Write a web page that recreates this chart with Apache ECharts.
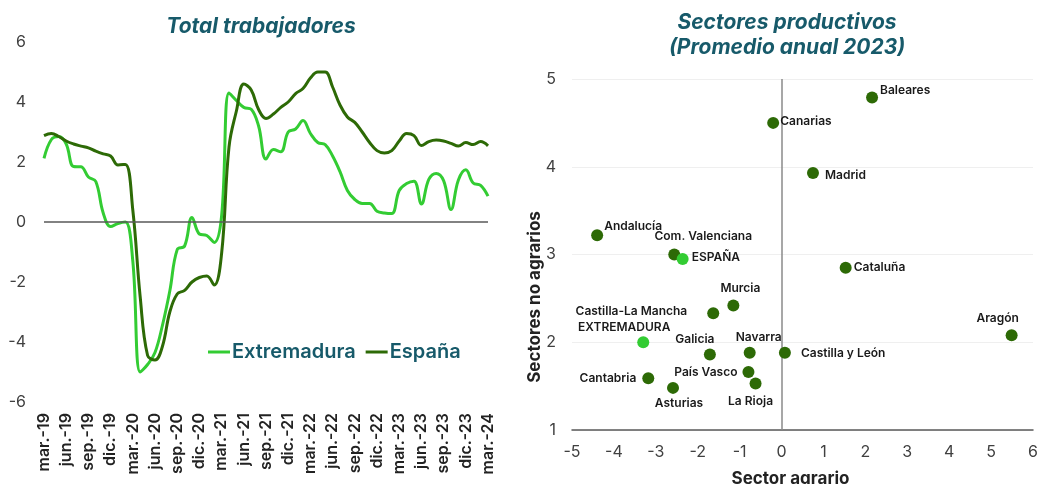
<!DOCTYPE html>
<html>
<head>
<meta charset="utf-8">
<script src="https://cdn.jsdelivr.net/npm/echarts@6/dist/echarts.min.js"></script>
<style>
  html, body { margin: 0; padding: 0; background: #fff; }
  #chart { width: 1040px; height: 484px; }
</style>
</head>
<body>
<div id="chart"></div>
<script>
// Total trabajadores: meses de mar.-19 a mar.-24
const monthNames = ['ene.', 'feb.', 'mar.', 'abr.', 'may.', 'jun.', 'jul.', 'ago.', 'sep.', 'oct.', 'nov.', 'dic.']
const months = []
for (let k = 0; k < 61; k++) {
  const m = (2 + k) % 12
  const yr = 19 + Math.floor((2 + k) / 12)
  months.push(monthNames[m] + '-' + yr)
}

const extremadura = [
  2.12, 2.75, 2.85, 2.6, 1.85, 1.84, 1.5, 1.35, 0.3, -0.15,
  -0.05, 0.0, -1.3, -5.0, -4.75, -4.35, -3.45, -2.3, -0.92, -0.8,
  0.15, -0.4, -0.45, -0.68, 0.2, 4.3, 4.05, 3.82, 3.76, 3.2,
  2.1, 2.42, 2.34, 3.0, 3.1, 3.38, 2.95, 2.65, 2.58, 2.2,
  1.68, 1.05, 0.75, 0.62, 0.62, 0.36, 0.3, 0.28, 1.05, 1.28,
  1.36, 0.6, 1.42, 1.62, 1.38, 0.42, 1.4, 1.74, 1.3, 1.22,
  0.86
]
const espana = [
  2.88, 2.95, 2.85, 2.7, 2.6, 2.53, 2.47, 2.36, 2.27, 2.2,
  1.9, 1.92, 0.4, -2.5, -4.45, -4.6, -4.15, -3.0, -2.4, -2.28,
  -2.0, -1.85, -1.8, -2.1, -1.05, 2.5, 3.7, 4.6, 4.4, 3.75,
  3.45, 3.6, 3.82, 4.0, 4.28, 4.45, 4.8, 5.0, 5.0, 4.5,
  3.9, 3.5, 3.32, 3.0, 2.65, 2.38, 2.3, 2.38, 2.7, 2.95,
  2.88, 2.55, 2.68, 2.73, 2.7, 2.62, 2.53, 2.65, 2.58, 2.68,
  2.54
]

// Sectores productivos (Promedio anual 2023)
const regions = [
  'Baleares', 'Canarias', 'Madrid', 'Andalucía', 'Com. Valenciana', 'ESPAÑA',
  'Cataluña', 'Murcia', 'Castilla-La Mancha', 'EXTREMADURA', 'Aragón', 'Galicia',
  'Navarra', 'Castilla y León', 'País Vasco', 'Cantabria', 'Asturias', 'La Rioja'
]
const agrario = [
  2.16, -0.2, 0.75, -4.4, -2.56, -2.36,
  1.53, -1.15, -1.63, -3.3, 5.49, -1.71,
  -0.76, 0.08, -0.79, -3.18, -2.59, -0.62
]
const noAgrario = [
  4.79, 4.5, 3.93, 3.22, 3.0, 2.95,
  2.85, 2.42, 2.33, 2.0, 2.08, 1.86,
  1.88, 1.88, 1.66, 1.59, 1.48, 1.53
]
const highlighted = ['ESPAÑA', 'EXTREMADURA']

const teal = '#175a6a'
const darkGreen = '#2d6a06'
const lightGreen = '#33cc33'
const font = 'Inter, "Noto Sans", sans-serif'

// posición de cada etiqueta del diagrama de dispersión
const labelPlace = {
  'Baleares': { position: 'right', offset: [-2, -7] },
  'Canarias': { position: 'right', offset: [-3, -1] },
  'Madrid': { position: 'right', offset: [2, 2] },
  'Andalucía': { position: 'right', offset: [-3, -9] },
  'Com. Valenciana': { position: 'top', offset: [29, -2] },
  'ESPAÑA': { position: 'right', offset: [-1, -1] },
  'Cataluña': { position: 'right', offset: [-2, 0] },
  'Murcia': { position: 'top', offset: [7, -1] },
  'Castilla-La Mancha': { position: 'left', offset: [-16, -2] },
  'EXTREMADURA': { position: 'top', offset: [-19, 1] },
  'Aragón': { position: 'top', offset: [-14, -1] },
  'Galicia': { position: 'top', offset: [-15, 1] },
  'Navarra': { position: 'top', offset: [9, 1] },
  'Castilla y León': { position: 'right', offset: [6, 1] },
  'País Vasco': { position: 'left', offset: [-1, 0] },
  'Cantabria': { position: 'left', offset: [-2, 0] },
  'Asturias': { position: 'bottom', offset: [6, 0] },
  'La Rioja': { position: 'bottom', offset: [-5, 2] }
}

const scatterData = regions.map((name, i) => {
  const hi = highlighted.includes(name)
  return {
    name,
    value: [agrario[i], noAgrario[i]],
    itemStyle: { color: hi ? lightGreen : darkGreen, opacity: 1 },
    label: labelPlace[name]
  }
})

const chart = echarts.init(document.getElementById('chart'), null, { renderer: 'canvas' })

chart.setOption({
  animation: false,
  backgroundColor: '#fff',
  textStyle: { fontFamily: font },
  title: [
    {
      text: 'Total trabajadores',
      left: 256,
      top: 11,
      textAlign: 'center',
      textStyle: { color: teal, fontSize: 21, fontWeight: 'bold', fontStyle: 'italic', fontFamily: font }
    },
    {
      text: 'Sectores productivos\n(Promedio anual 2023)',
      left: 782,
      top: 5,
      textAlign: 'center',
      textStyle: { color: teal, fontSize: 21, fontWeight: 'bold', fontStyle: 'italic', fontFamily: font, lineHeight: 25 }
    }
  ],
  legend: {
    data: ['Extremadura', 'España'],
    left: 208,
    top: 342,
    padding: 0,
    icon: 'rect',
    itemWidth: 22,
    itemHeight: 3,
    itemGap: 10,
    textStyle: { color: teal, fontSize: 20, fontWeight: 600, fontFamily: font, padding: [0, 0, 0, -3] }
  },
  graphic: [
    {
      type: 'text',
      x: 535,
      y: 297,
      rotation: Math.PI / 2,
      style: {
        text: 'Sectores no agrarios',
        align: 'center',
        verticalAlign: 'middle',
        fill: '#222',
        font: 'bold 17px ' + font
      }
    }
  ],
  grid: [
    { left: 44, top: 42, width: 444, height: 360, outerBoundsMode: 'none' },
    { left: 572, top: 79, width: 461, height: 351, outerBoundsMode: 'none' }
  ],
  xAxis: [
    {
      type: 'category',
      gridIndex: 0,
      data: months,
      boundaryGap: false,
      axisLine: { show: false, onZero: false },
      axisTick: { show: false },
      axisLabel: {
        interval: 2,
        rotate: 90,
        margin: 11,
        color: '#222',
        fontSize: 16,
        fontWeight: 600,
        fontFamily: font
      },
      splitLine: { show: false }
    },
    {
      type: 'value',
      gridIndex: 1,
      min: -5,
      max: 6,
      interval: 1,
      name: 'Sector agrario',
      nameLocation: 'middle',
      nameGap: 40,
      nameTextStyle: { color: '#222', fontSize: 17, fontWeight: 'bold', fontFamily: font, padding: [0, 24, 0, 0] },
      axisLine: { show: true, onZero: false, lineStyle: { color: '#595959', width: 1.5 } },
      axisTick: { show: false },
      axisLabel: { color: '#404040', fontSize: 16, margin: 14, fontFamily: font },
      splitLine: { show: false }
    }
  ],
  yAxis: [
    {
      type: 'value',
      gridIndex: 0,
      min: -6,
      max: 6,
      interval: 2,
      axisLine: { show: false },
      axisTick: { show: false },
      axisLabel: { color: '#404040', fontSize: 16, margin: 18, fontFamily: font },
      splitLine: { show: false }
    },
    {
      type: 'value',
      gridIndex: 1,
      min: 1,
      max: 5,
      interval: 1,
      axisLine: { show: false, onZero: false },
      axisTick: { show: false },
      axisLabel: { color: '#404040', fontSize: 16, margin: 16, fontFamily: font },
      splitLine: { show: true, lineStyle: { color: '#efefef', width: 1 } }
    }
  ],
  series: [
    {
      name: 'Extremadura',
      type: 'line',
      xAxisIndex: 0,
      yAxisIndex: 0,
      data: extremadura,
      smooth: 0.4,
      showSymbol: false,
      symbol: 'none',
      color: lightGreen,
      lineStyle: { color: lightGreen, width: 3 },
      z: 3,
      markLine: {
        silent: true,
        symbol: 'none',
        label: { show: false },
        lineStyle: { color: '#595959', width: 1.5, type: 'solid' },
        data: [{ yAxis: 0 }]
      }
    },
    {
      name: 'España',
      type: 'line',
      xAxisIndex: 0,
      yAxisIndex: 0,
      data: espana,
      smooth: 0.4,
      showSymbol: false,
      symbol: 'none',
      color: darkGreen,
      lineStyle: { color: darkGreen, width: 3 },
      z: 4
    },
    {
      name: 'Regiones',
      type: 'scatter',
      xAxisIndex: 1,
      yAxisIndex: 1,
      symbolSize: 12,
      data: scatterData,
      label: {
        show: true,
        formatter: '{b}',
        color: '#1a1a1a',
        fontSize: 12,
        fontWeight: 600,
        fontFamily: font,
        distance: 4
      },
      markLine: {
        silent: true,
        symbol: 'none',
        label: { show: false },
        lineStyle: { color: '#8a8a8a', width: 1.5, type: 'solid' },
        data: [{ xAxis: 0 }]
      },
      z: 5
    }
  ]
})
</script>
</body>
</html>
